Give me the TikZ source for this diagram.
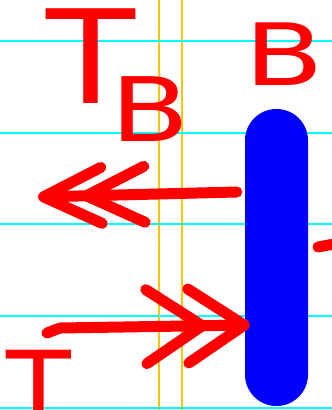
\documentclass[tikz,border=0pt]{standalone}
\usepackage{fontspec}
\usepackage{graphicx}
\newfontfamily\sketchfont{DejaVu Sans}
\usetikzlibrary{arrows.meta}
\definecolor{marginyellow}{RGB}{255,196,0}
\definecolor{guidecyan}{RGB}{0,255,255}

\begin{document}
\begin{tikzpicture}[x=1pt,y=-1pt,
guide/.style={guidecyan, line width=1.7pt},
margin/.style={marginyellow, line width=1.4pt},
glyph/.style={text=red, inner sep=0pt, anchor=base},
stroke/.style={red, line width=11pt, line cap=round, line join=round},
leftarrow/.style={stroke, -{Straight Barb[round, length=58pt, width=56pt, sep=-26pt] Straight Barb[round, length=58pt, width=56pt]}},
rightarrow/.style={stroke, -{Straight Barb[round, length=56pt, width=74pt, sep=-25pt] Straight Barb[round, length=56pt, width=74pt]}}
]
\useasboundingbox (0,0) rectangle (332,410);
\clip (0,0) rectangle (332,410);

% Ruled paper
\foreach \x in {159,182}
  \draw[margin] (\x,0) -- (\x,410);
\foreach \y in {41,133,224,316,408}
  \draw[guide] (0,\y) -- (332,\y);

% Letters
\node[glyph, font=\sketchfont\fontsize{130}{130}\selectfont] (ttop) at (91,103) {\scalebox{1.12}[1]{T}};
\node[glyph, font=\sketchfont\fontsize{89}{89}\selectfont] (bsub) at (150,141) {\scalebox{1.3}[1]{B}};
\node[glyph, font=\sketchfont\fontsize{86}{86}\selectfont] (bright) at (284,85) {\scalebox{1.35}[1]{B}};
\node[glyph, font=\sketchfont\fontsize{106}{106}\selectfont] (tbottom) at (39,427) {T};

% Bar
\node[fill=blue, rounded corners=31.5pt, minimum width=63pt, minimum height=297pt, inner sep=0pt] (bar) at (276.5,257.5) {};

% Arrows
\coordinate (lefttip) at (38,197);
\coordinate (rightstart) at (47,333);
\draw[leftarrow] ([shift={(-8,-65.5)}]bar.west) -- (lefttip);
\draw[rightarrow] (rightstart) -- ++(13,-5) -- ([shift={(5,67.5)}]bar.west);

% Stray mark at the edge
\draw[stroke] (318,247) -- (334,244);

\end{tikzpicture}
\end{document}
